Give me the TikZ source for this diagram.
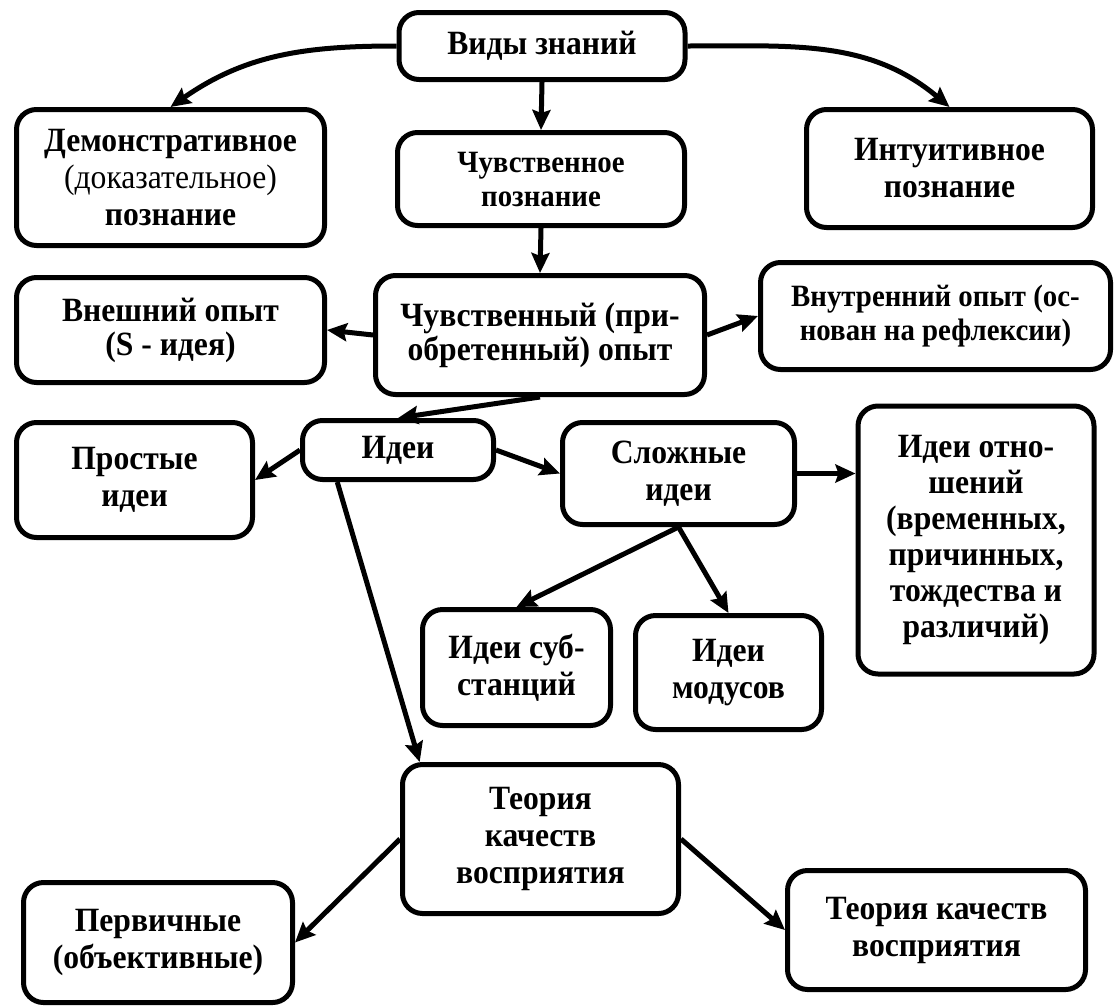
\documentclass[tikz,border=0pt]{standalone}
\usepackage{fontspec}
\setmainfont{Liberation Serif}[FakeStretch=0.93]
\usetikzlibrary{arrows.meta,calc}
\begin{document}
\begin{tikzpicture}[x=1pt,y=-1pt,
  box/.style={draw, line width=5pt, rounded corners=20pt, align=center, inner sep=0pt, font=\bfseries\fontsize{34}{37}\selectfont},
  tightbox/.style={box, font=\bfseries\fontsize{34}{34}\selectfont},
  smallbox/.style={box, font=\bfseries\fontsize{31}{34}\selectfont},
  arr/.style={line width=5pt, -{Stealth[length=20pt,width=18pt,inset=3pt]}}]
\useasboundingbox (0,0) rectangle (1116,1007);
\node[box, minimum width=286, minimum height=67] (vz) at (542,46) {Виды знаний};
\node[box, minimum width=308, minimum height=136] (dem) at (170.5,177.5) {Демонстративное\\\mdseries(доказательное)\\познание};
\node[smallbox, minimum width=287, minimum height=93] (chp) at (541,179) {Чувственное\\познание};
\node[box, minimum width=286, minimum height=118] (int) at (949.5,168.5) {Интуитивное\\познание};
\node[tightbox, minimum width=308, minimum height=105] (vn) at (170.5,330) {Внешний опыт\\(S - идея)};
\node[tightbox, minimum width=329, minimum height=119] (co) at (540,335) {Чувственный (при-\\обретенный) опыт};
\node[smallbox, minimum width=350, minimum height=107] (vnut) at (935.5,316) {Внутренний опыт (ос-\\нован на рефлексии)};
\node[box, minimum width=236, minimum height=115] (prost) at (134.5,480) {Простые\\идеи};
\node[box, minimum width=191, minimum height=59] (idei) at (398,450) {Идеи};
\node[box, minimum width=232, minimum height=102] (slozh) at (678.5,473.5) {Сложные\\идеи};
\node[box, minimum width=236, minimum height=268, font=\bfseries\fontsize{34}{36}\selectfont] (otn) at (976,540) {Идеи отно-\\шений\\(временных,\\причинных,\\тождества и\\различий)};
\node[box, minimum width=188, minimum height=116] (subst) at (516.5,667.5) {Идеи суб-\\станций};
\node[box, minimum width=186, minimum height=114] (mod) at (728.5,672.5) {Идеи\\модусов};
\node[box, minimum width=276, minimum height=149] (teor) at (540.5,839) {Теория\\качеств\\восприятия};
\node[box, minimum width=269, minimum height=120] (perv) at (158,942.5) {Первичные\\(объективные)};
\node[box, minimum width=298, minimum height=119] (tr) at (936.5,930) {Теория качеств\\восприятия};

\draw[arr] (vz.west) to[out=180,in=35] (dem.north);
\draw[arr] (vz.east) to[out=0,in=140] (int.north);
\draw[arr] (vz.south) -- (chp.north);
\draw[arr] (chp.south) -- (co.north);
\draw[arr] (co.west) -- (vn.east);
\draw[arr] (co.east) -- (vnut.west);
\draw[arr] (co.south) -- (idei.north);
\draw[arr] (idei.west) -- (prost.east);
\draw[arr] (idei.east) -- (slozh.west);
\draw[arr] ($(idei.south west)!0.19!(idei.south east)$) -- ($(teor.north west)!0.07!(teor.north east)$);
\draw[arr] (slozh.east) -- (slozh.east -| otn.west);
\draw[arr] (slozh.south) -- (subst.north);
\draw[arr] (slozh.south) -- (mod.north);
\draw[arr] (teor.west) -- (perv.east);
\draw[arr] (teor.east) -- (tr.west);
\end{tikzpicture}
\end{document}
